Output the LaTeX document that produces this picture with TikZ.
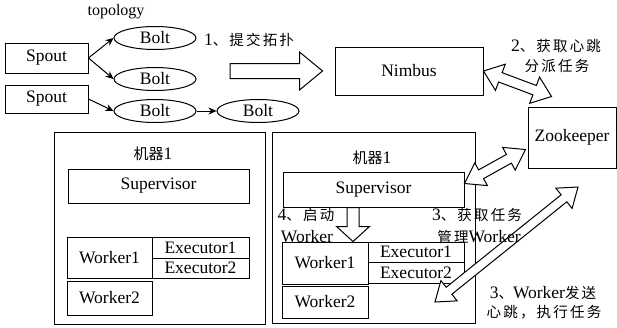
\documentclass[tikz,border=0pt]{standalone}
\usepackage{fontspec}
\setmainfont{Liberation Serif}
\newfontfamily\cjk{Noto Sans CJK SC}
\newfontfamily\cjks[LetterSpace=15]{Noto Sans CJK SC}
\usetikzlibrary{arrows.meta,calc,shapes.geometric}
\newcommand\zh[1]{{\cjks\fontsize{14.5}{18}\selectfont #1}}
\newcommand\zhn[1]{{\cjk\fontsize{15}{18}\selectfont #1}}
% fat arrow: #1 start, #2 end, #3 shaft half, #4 head half, #5 head length, #6 = 1 double / 0 single
\newcommand\fatarrow[6]{%
  \path let \p1=(#1), \p2=(#2), \n1={atan2(\y2-\y1,\x2-\x1)}, \n2={veclen(\x2-\x1,\y2-\y1)} in
    \pgfextra{\xdef\fatang{\n1}\xdef\fatlen{\n2}};
  \pgfmathsetmacro\fatb{\fatlen-#5}%
  \begin{scope}[shift={(#1)}, rotate=\fatang]
    \ifnum#6=1
      \filldraw[fatline] (0,0) -- (#5,-#4) -- (#5,-#3) -- (\fatb,-#3) -- (\fatb,-#4) -- (\fatlen,0)
        -- (\fatb,#4) -- (\fatb,#3) -- (#5,#3) -- (#5,#4) -- cycle;
    \else
      \filldraw[fatline] (0,-#3) -- (\fatb,-#3) -- (\fatb,-#4) -- (\fatlen,0)
        -- (\fatb,#4) -- (\fatb,#3) -- (0,#3) -- cycle;
    \fi
  \end{scope}}
\begin{document}
\begin{tikzpicture}[x=1pt,y=-1pt,
  every node/.style={font=\fontsize{17.5}{19}\selectfont, inner sep=0pt},
  box/.style={draw, line width=1pt, rectangle},
  bolt/.style={draw, line width=1pt, ellipse, minimum width=82, minimum height=23},
  arr/.style={line width=1pt, -{Stealth[length=8pt,width=7pt]}},
  fatline/.style={draw=black, fill=white, line width=1pt, line join=miter},
  lbl/.style={align=center}]
\useasboundingbox (0,0) rectangle (617,327);

% topology
\node[font=\fontsize{16}{18}\selectfont] (topo) at (116,12) {topology};
\node[box, minimum width=83, minimum height=30] (spout1) at (46.5,58) {Spout};
\node[box, minimum width=83, minimum height=28] (spout2) at (46.5,99) {Spout};
\node[bolt] (bolt1) at (155,38) {Bolt};
\node[bolt] (bolt2) at (155,79) {Bolt};
\node[bolt] (bolt3) at (155,111) {Bolt};
\node[bolt] (bolt4) at (258,111) {Bolt};
\draw[arr] (spout1.east) -- (bolt1.west);
\draw[arr] (spout1.east) -- (bolt2.west);
\draw[arr] (spout2.east) -- (bolt3.west);
\draw[arr] (bolt3.east) -- (bolt4.west);

% Nimbus, Zookeeper
\node[box, minimum width=148, minimum height=48] (nimbus) at (409,71) {Nimbus};
\node[box, minimum width=88, minimum height=61] (zk) at (572,137.5) {Zookeeper};

% machines
\node[box, minimum width=211, minimum height=192] (m1) at (159.5,228) {};
\node[box, minimum width=203, minimum height=191] (m2) at (373.5,227.5) {};
\node (m1t) at (153,154) {\zhn{机器}1};
\node (m2t) at (372,158) {\zhn{机器}1};

\node[box, minimum width=181, minimum height=34] (sup1) at (158.5,186) {Supervisor};
\node[box, minimum width=85, minimum height=41] (w11) at (109.5,257.5) {Worker1};
\node[box, minimum width=97, minimum height=21] (e11) at (200.5,247.5) {Executor1};
\node[box, minimum width=97, minimum height=20] (e12) at (200.5,268) {Executor2};
\node[box, minimum width=85, minimum height=34] (w12) at (109.5,298) {Worker2};

\node[box, minimum width=181, minimum height=35] (sup2) at (373.5,189.5) {Supervisor};
\node[box, minimum width=86, minimum height=42] (w21) at (325,263) {Worker1};
\node[box, minimum width=96, minimum height=20] (e21) at (416,252) {Executor1};
\node[box, minimum width=96, minimum height=21] (e22) at (416,272.5) {Executor2};
\node[box, minimum width=86, minimum height=32] (w22) at (325,302) {Worker2};

% fat arrows
\coordinate (subA) at (230,71);
\coordinate (subB) at ($(nimbus.west)+(-12,0)$);
\fatarrow{subA}{subB}{7.5}{19}{23}{0}

\coordinate (nzA) at (nimbus.east);
\coordinate (nzB) at ($(zk.north west)+(24,-10)$);
\fatarrow{nzA}{nzB}{5}{14}{18}{1}

\coordinate (szA) at ($(sup2.east)+(0,-6)$);
\coordinate (szB) at ($(zk.west)+(-2,12)$);
\fatarrow{szA}{szB}{5}{13}{19}{1}

\coordinate (wzA) at (435,302);
\coordinate (wzB) at (578,187);
\fatarrow{wzA}{wzB}{4.5}{13}{18}{1}

\coordinate (swA) at (sup2.south -| 353,0);
\coordinate (swB) at (w21.north -| 353,0);
\fatarrow{swA}{swB}{6}{16.5}{15}{0}

% labels
\node (l1) at (249,40) {1\zh{、提交拓扑}};
\node[lbl] (l2a) at (556,46) {2\zh{、获取心跳}};
\node[lbl] (l2b) at (557,66) {\zh{分派任务}};
\node (l4a) at (306,215) {4\zh{、启动}};
\node (l4b) at (307,237) {Worker};
\node (l3a) at (477,215) {3\zh{、获取任务}};
\node (l3b) at (479,237) {\zh{管理}Worker};
\node (l5a) at (543,293) {3\zh{、}Worker\zh{发送}};
\node (l5b) at (544,312) {\zh{心跳，执行任务}};
\end{tikzpicture}
\end{document}
